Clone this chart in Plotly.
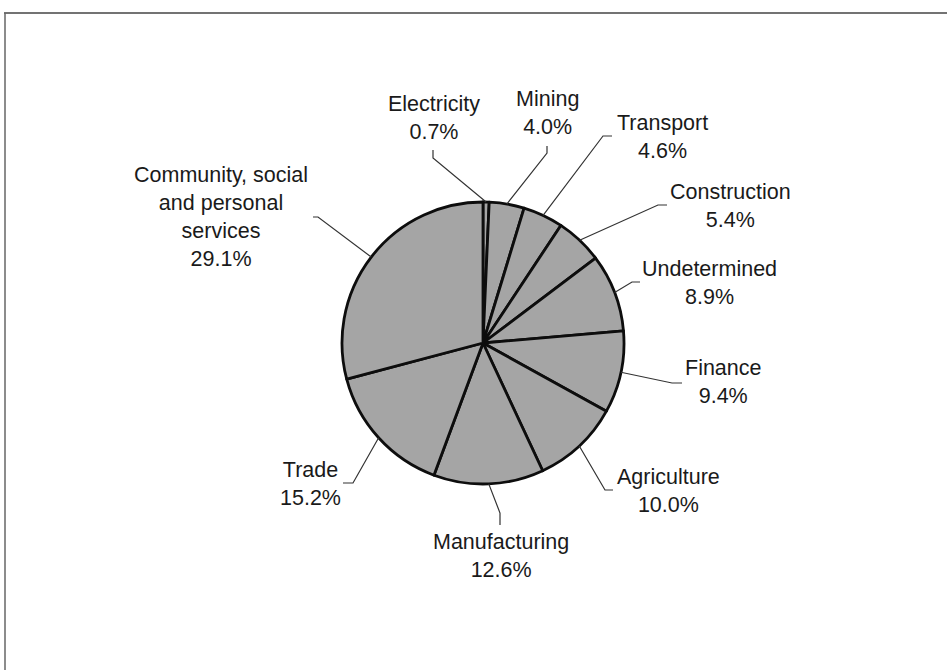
import math
import plotly.graph_objects as go

# Share of employment by sector, clockwise from 12 o'clock
sectors = [
    "Electricity", "Mining", "Transport", "Construction", "Undetermined",
    "Finance", "Agriculture", "Manufacturing", "Trade",
    "Community, social and personal services",
]
shares = [0.7, 4.0, 4.6, 5.4, 8.9, 9.4, 10.0, 12.6, 15.2, 29.1]
label_lines = [
    "Electricity", "Mining", "Transport", "Construction", "Undetermined",
    "Finance", "Agriculture", "Manufacturing", "Trade",
    "Community, social<br>and personal<br>services",
]

# Page geometry (pixels)
W, H = 947, 670
CX, CY, R = 483, 343, 141

# Label block centres and leader-line elbow / end points (pixels)
label_pos = [
    (434, 118), (547, 113), (662, 137), (730, 206), (709, 283),
    (723, 382), (668, 491), (501, 556), (310, 484), (221, 217),
]
leader_elbow = [
    (433, 158), (547, 153), (603, 136), (658, 205), (632, 282),
    (672, 383), (605, 490), (500, 513), (353, 483), (318, 217),
]
leader_end = [
    (433, 150), (547, 146), (612, 136), (667, 205), (640, 282),
    (682, 383), (613, 490), (500, 525), (343, 483), (313, 217),
]


def px(x):
    return x / W


def py(y):
    return 1 - y / H


fig = go.Figure(
    go.Pie(
        labels=sectors,
        values=shares,
        sort=False,
        direction="clockwise",
        rotation=0,
        textinfo="none",
        hoverinfo="label+percent",
        marker=dict(colors=["#a5a5a5"] * len(shares),
                    line=dict(color="#0d0d0d", width=2.8)),
        domain=dict(x=[px(CX - R), px(CX + R)], y=[py(CY + R), py(CY - R)]),
        showlegend=False,
    )
)

shapes = []
annotations = []
total = sum(shares)
cum = 0.0
for i, v in enumerate(shares):
    mid = (cum + v / 2) / total * 2 * math.pi
    cum += v
    ex = CX + R * math.sin(mid)
    ey = CY - R * math.cos(mid)
    (bx, by), (tx, ty) = leader_elbow[i], leader_end[i]
    shapes.append(dict(
        type="path", xref="paper", yref="paper",
        path=f"M {px(ex)},{py(ey)} L {px(bx)},{py(by)} L {px(tx)},{py(ty)}",
        line=dict(color="#333333", width=1.2),
    ))
    lx, ly = label_pos[i]
    annotations.append(dict(
        x=px(lx), y=py(ly), xref="paper", yref="paper",
        text=f"{label_lines[i]}<br>{v:.1f}%",
        showarrow=False, xanchor="center", yanchor="middle", align="center",
        font=dict(family="Liberation Sans, Arial, sans-serif", size=21.5, color="#1a1a1a"),
    ))

# Frame lines along the top and left edges
shapes.append(dict(type="line", xref="paper", yref="paper",
                   x0=px(4), y0=py(13), x1=1, y1=py(13),
                   line=dict(color="#444444", width=1.5)))
shapes.append(dict(type="line", xref="paper", yref="paper",
                   x0=px(5), y0=py(13), x1=px(5), y1=0,
                   line=dict(color="#666666", width=1.5)))

fig.update_layout(
    width=W, height=H,
    margin=dict(l=0, r=0, t=0, b=0),
    paper_bgcolor="white", plot_bgcolor="white",
    shapes=shapes, annotations=annotations,
)

fig.write_html("out.html")
